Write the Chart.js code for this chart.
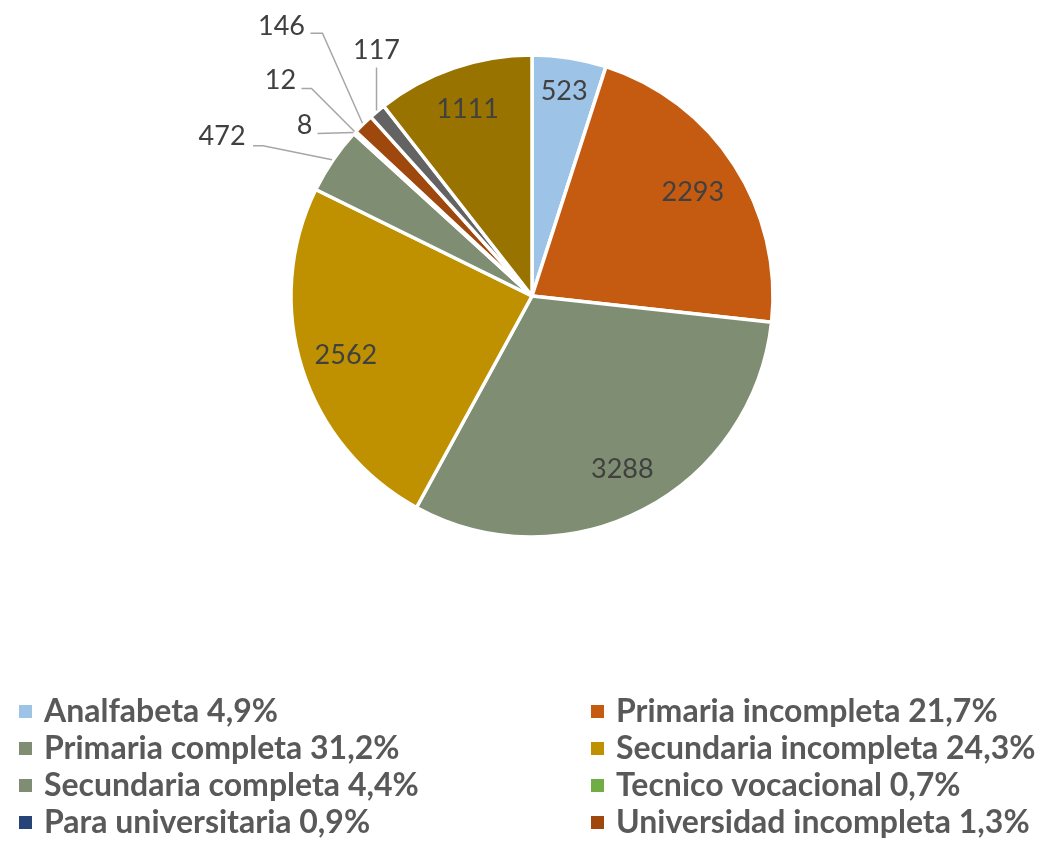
<!DOCTYPE html>
<html>
<head>
<meta charset="utf-8">
<script src="https://cdn.jsdelivr.net/npm/chart.js@4"></script>
<style>
  html, body { margin: 0; padding: 0; background: #ffffff; }
  #wrap { width: 1045px; height: 848px; }
</style>
</head>
<body>
<div id="wrap"><canvas id="c" width="1045" height="848"></canvas></div>
<script>
// ---- data ----
const categories = [
  "Analfabeta", "Primaria incompleta", "Primaria completa", "Secundaria incompleta",
  "Secundaria completa", "Tecnico vocacional", "Para universitaria", "Universidad incompleta",
  "Universidad completa", "Otros"
];
const values = [523, 2293, 3288, 2562, 472, 8, 12, 146, 117, 1111];
const legendLabels = [
  "Analfabeta 4,9%", "Primaria incompleta 21,7%", "Primaria completa 31,2%", "Secundaria incompleta 24,3%",
  "Secundaria completa 4,4%", "Tecnico vocacional 0,7%", "Para universitaria 0,9%", "Universidad incompleta 1,3%"
];
const colors = ["#9DC3E6", "#C55A11", "#7F8E73", "#BF9000", "#7F8E73", "#70AD47", "#264478", "#9E480E", "#636363", "#997300"];

// ---- label layout (style) ----
// inside labels: radial fraction; outside labels: text offset & leader points relative to arc-edge anchor
const labelStyle = [
  {r: 0.86}, {r: 0.795}, {r: 0.81}, {r: 0.81},
  {out: true, text: [-110, -23], leader: [[-79, -14], [-69, -14]]},
  {out: true, text: [-49, -7], leader: [[-36, 1]]},
  {out: true, text: [-74, -51], leader: [[-53, -43], [-43, -43]]},
  {out: true, text: [-81, -97], leader: [[-52, -90], [-40, -90]]},
  {out: true, text: [0, -60], leader: [[0, -43]]},
  {r: 0.82}
];

const labelPlugin = {
  id: 'sliceLabels',
  afterDatasetsDraw(chart) {
    const ctx = chart.ctx;
    const meta = chart.getDatasetMeta(0);
    ctx.save();
    ctx.font = '27px Lato, "Open Sans", sans-serif';
    ctx.fillStyle = '#404040';
    ctx.textAlign = 'center';
    ctx.textBaseline = 'middle';
    meta.data.forEach((arc, i) => {
      const p = arc.getProps(['x', 'y', 'startAngle', 'endAngle', 'outerRadius'], true);
      const mid = (p.startAngle + p.endAngle) / 2;
      const st = labelStyle[i];
      const txt = String(values[i]);
      if (!st.out) {
        const rr = p.outerRadius * st.r;
        ctx.fillText(txt, p.x + Math.cos(mid) * rr, p.y + Math.sin(mid) * rr);
      } else {
        const ax = p.x + Math.cos(mid) * (p.outerRadius + 1);
        const ay = p.y + Math.sin(mid) * (p.outerRadius + 1);
        ctx.strokeStyle = '#A6A6A6';
        ctx.lineWidth = 1.5;
        ctx.beginPath();
        st.leader.forEach((pt, k) => {
          if (k === 0) ctx.moveTo(ax + pt[0], ay + pt[1]);
          else ctx.lineTo(ax + pt[0], ay + pt[1]);
        });
        ctx.lineTo(ax, ay);
        ctx.stroke();
        ctx.fillText(txt, ax + st.text[0], ay + st.text[1]);
      }
    });
    ctx.restore();
  }
};

const legendPlugin = {
  id: 'twoColLegend',
  afterDraw(chart) {
    const ctx = chart.ctx;
    const colX = [19, 591];
    const rowY = [711, 748, 785, 822];
    ctx.save();
    ctx.font = 'bold 32px Lato, "Open Sans", sans-serif';
    ctx.fillStyle = '#595959';
    ctx.textAlign = 'left';
    ctx.textBaseline = 'middle';
    legendLabels.forEach((lab, i) => {
      const c = i % 2, r = Math.floor(i / 2);
      ctx.fillStyle = colors[i];
      ctx.fillRect(colX[c], rowY[r] - 6, 13, 13);
      ctx.fillStyle = '#595959';
      ctx.fillText(lab, colX[c] + 25, rowY[r] + 1);
    });
    ctx.restore();
  }
};

new Chart(document.getElementById('c'), {
  type: 'pie',
  data: {
    labels: categories,
    datasets: [{
      data: values,
      backgroundColor: colors,
      borderColor: '#ffffff',
      borderWidth: 3.5,
      hoverOffset: 0
    }]
  },
  options: {
    responsive: false,
    animation: false,
    events: [],
    radius: 241,
    layout: { padding: { left: 40, right: 21, top: 20, bottom: 276 } },
    plugins: {
      legend: { display: false },
      tooltip: { enabled: false }
    }
  },
  plugins: [labelPlugin, legendPlugin]
});
</script>
</body>
</html>
